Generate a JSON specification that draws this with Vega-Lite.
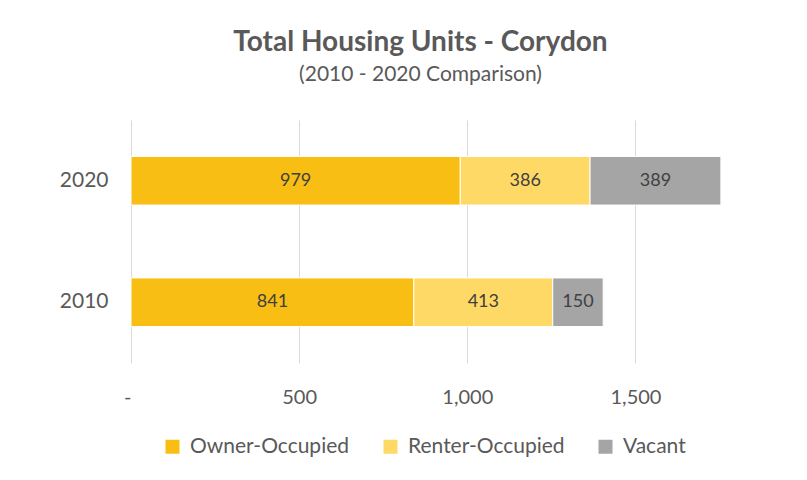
{
  "$schema": "https://vega.github.io/schema/vega-lite/v6.json",
  "width": 639,
  "height": 243,
  "autosize": "none",
  "padding": {"left": 131, "top": 120, "right": 37, "bottom": 117},
  "background": "white",
  "title": {
    "text": "Total Housing Units - Corydon",
    "subtitle": "(2010 - 2020 Comparison)",
    "font": "Lato",
    "fontSize": 28,
    "fontWeight": "bold",
    "color": "#595959",
    "subtitleFont": "Lato",
    "subtitleFontSize": 21,
    "subtitleColor": "#595959",
    "anchor": "middle",
    "dx": -30,
    "offset": 35,
    "subtitlePadding": 7
  },
  "data": {
    "values": [
      {"year": "2020", "type": "Owner-Occupied", "units": 979},
      {"year": "2020", "type": "Renter-Occupied", "units": 386},
      {"year": "2020", "type": "Vacant", "units": 389},
      {"year": "2010", "type": "Owner-Occupied", "units": 841},
      {"year": "2010", "type": "Renter-Occupied", "units": 413},
      {"year": "2010", "type": "Vacant", "units": 150}
    ]
  },
  "transform": [
    {"stack": "units", "groupby": ["year"], "sort": [{"field": "type", "order": "ascending"}], "as": ["u0", "u1"]},
    {"calculate": "(datum.u0 + datum.u1) / 2", "as": "mid"}
  ],
  "encoding": {
    "y": {
      "field": "year",
      "type": "nominal",
      "sort": "descending",
      "scale": {"paddingInner": 0.6, "paddingOuter": 0.3},
      "axis": {
        "title": null,
        "domain": false,
        "ticks": false,
        "grid": false,
        "labelFont": "Lato",
        "labelFontSize": 21,
        "labelColor": "#595959",
        "labelPadding": 23
      }
    }
  },
  "layer": [
    {
      "mark": {"type": "bar", "stroke": "white", "strokeWidth": 1},
      "encoding": {
        "x": {
          "field": "u0",
          "type": "quantitative",
          "scale": {"domain": [0, 1900], "nice": false},
          "axis": {
            "title": null,
            "domain": false,
            "ticks": false,
            "values": [0, 500, 1000, 1500],
            "labelExpr": "datum.value == 0 ? '-  ' : format(datum.value, ',')",
            "labelAlign": {"condition": {"test": "datum.value == 0", "value": "right"}, "value": "center"},
            "labelFont": "Lato",
            "labelFontSize": 20,
            "labelColor": "#595959",
            "labelPadding": 24,
            "grid": true,
            "gridColor": "#D9D9D9",
            "gridWidth": 1
          }
        },
        "x2": {"field": "u1"},
        "color": {
          "field": "type",
          "type": "nominal",
          "scale": {
            "domain": ["Owner-Occupied", "Renter-Occupied", "Vacant"],
            "range": ["#F8BE14", "#FFD966", "#A5A5A5"]
          },
          "legend": {
            "title": null,
            "orient": "none",
            "direction": "horizontal",
            "legendX": 31,
            "legendY": 316,
            "symbolType": "square",
            "symbolSize": 196,
            "symbolStrokeWidth": 0,
            "labelFont": "Lato",
            "labelFontSize": 21,
            "labelColor": "#595959",
            "labelOffset": 7,
            "columnPadding": 30
          }
        }
      }
    },
    {
      "mark": {"type": "text", "font": "Lato", "fontSize": 18, "color": "#404040"},
      "encoding": {
        "x": {"field": "mid", "type": "quantitative"},
        "text": {"field": "units", "type": "quantitative", "format": ","}
      }
    }
  ],
  "config": {"view": {"stroke": null}}
}
